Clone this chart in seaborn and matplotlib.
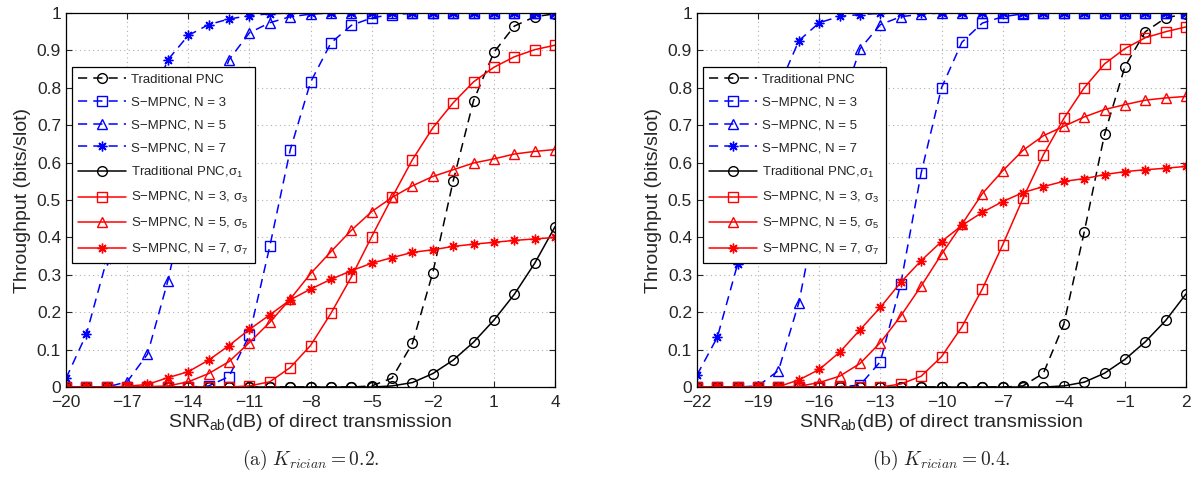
import numpy as np
import pandas as pd
import seaborn as sns
import matplotlib
matplotlib.use('Agg')
import matplotlib.pyplot as plt
from matplotlib.ticker import FormatStrFormatter

# SNR axes (dB), one marker per dB
snr_a = list(range(-20, 5))
snr_b = list(range(-22, 3))

# (a) K_rician = 0.2
pnc_a = [0, 0, 0, 0, 0, 0, 0, 0, 0, 0, 0, 0, 0, 0, 0, 0.003, 0.024, 0.117, 0.306, 0.551, 0.766, 0.895, 0.965, 0.99, 0.998]
n3_a = [0, 0, 0, 0, 0, 0, 0, 0.003, 0.028, 0.139, 0.376, 0.633, 0.815, 0.92, 0.967, 0.987, 0.996, 0.999, 1, 1, 1, 1, 1, 1, 1]
n5_a = [0, 0, 0, 0.014, 0.088, 0.284, 0.53, 0.73, 0.875, 0.947, 0.974, 0.99, 0.997, 1, 1, 1, 1, 1, 1, 1, 1, 1, 1, 1, 1]
n7_a = [0.023, 0.141, 0.34, 0.55, 0.74, 0.875, 0.94, 0.969, 0.984, 0.993, 0.998, 1, 1, 1, 1, 1, 1, 1, 1, 1, 1, 1, 1, 1, 1]
pnc_s_a = [0, 0, 0, 0, 0, 0, 0, 0, 0, 0, 0, 0, 0, 0, 0, 0, 0.003, 0.012, 0.036, 0.072, 0.12, 0.179, 0.248, 0.331, 0.429]
n3_s_a = [0, 0, 0, 0, 0, 0, 0, 0, 0, 0.003, 0.014, 0.052, 0.111, 0.197, 0.294, 0.402, 0.507, 0.608, 0.693, 0.76, 0.816, 0.855, 0.883, 0.902, 0.914]
n5_s_a = [0, 0, 0, 0, 0.001, 0.003, 0.014, 0.036, 0.068, 0.119, 0.173, 0.235, 0.303, 0.362, 0.419, 0.469, 0.507, 0.538, 0.563, 0.581, 0.599, 0.61, 0.623, 0.63, 0.635]
n7_s_a = [0, 0, 0, 0.002, 0.007, 0.025, 0.041, 0.072, 0.111, 0.154, 0.193, 0.233, 0.262, 0.288, 0.311, 0.331, 0.346, 0.36, 0.367, 0.376, 0.382, 0.387, 0.392, 0.396, 0.4]

# (b) K_rician = 0.4
pnc_b = [0, 0, 0, 0, 0, 0, 0, 0, 0, 0, 0, 0, 0, 0, 0, 0, 0.003, 0.037, 0.168, 0.414, 0.676, 0.857, 0.95, 0.987, 0.998]
n3_b = [0, 0, 0, 0, 0, 0, 0, 0.001, 0.005, 0.068, 0.276, 0.572, 0.8, 0.922, 0.973, 0.99, 0.998, 1, 1, 1, 1, 1, 1, 1, 1]
n5_b = [0, 0, 0, 0.003, 0.044, 0.226, 0.5, 0.74, 0.904, 0.969, 0.99, 0.997, 1, 1, 1, 1, 1, 1, 1, 1, 1, 1, 1, 1, 1]
n7_b = [0.032, 0.133, 0.33, 0.58, 0.8, 0.926, 0.974, 0.991, 0.996, 0.999, 1, 1, 1, 1, 1, 1, 1, 1, 1, 1, 1, 1, 1, 1, 1]
pnc_s_b = [0, 0, 0, 0, 0, 0, 0, 0, 0, 0, 0, 0, 0, 0, 0, 0, 0, 0, 0.003, 0.013, 0.037, 0.074, 0.121, 0.178, 0.249]
n3_s_b = [0, 0, 0, 0, 0, 0, 0, 0, 0, 0, 0.008, 0.029, 0.081, 0.161, 0.262, 0.38, 0.505, 0.621, 0.718, 0.8, 0.864, 0.905, 0.934, 0.95, 0.963]
n5_s_b = [0, 0, 0, 0, 0, 0.002, 0.012, 0.029, 0.063, 0.119, 0.19, 0.27, 0.355, 0.435, 0.517, 0.578, 0.633, 0.672, 0.697, 0.722, 0.742, 0.755, 0.767, 0.773, 0.777]
n7_s_b = [0, 0, 0, 0, 0.001, 0.019, 0.047, 0.093, 0.153, 0.213, 0.28, 0.338, 0.389, 0.432, 0.467, 0.496, 0.52, 0.536, 0.55, 0.557, 0.568, 0.576, 0.581, 0.585, 0.59]

labels = ['Traditional PNC', 'S\u2212MPNC, N = 3', 'S\u2212MPNC, N = 5', 'S\u2212MPNC, N = 7',
          'Traditional PNC,\u03c3$_1$', 'S\u2212MPNC, N = 3, \u03c3$_3$',
          'S\u2212MPNC, N = 5, \u03c3$_5$', 'S\u2212MPNC, N = 7, \u03c3$_7$']
xticks_a = [-20, -17, -14, -11, -8, -5, -2, 1, 4]
xticks_b = [-22, -19, -16, -13, -10, -7, -4, -1, 2]
captions = [r'$\mathrm{(a)}\ K_{rician} = 0.2.$', r'$\mathrm{(b)}\ K_{rician} = 0.4.$']

sns.set_style('ticks')
plt.rcParams['font.family'] = ['Liberation Sans', 'DejaVu Sans']
plt.rcParams['mathtext.fontset'] = 'custom'
plt.rcParams['mathtext.rm'] = 'Liberation Sans'
plt.rcParams['mathtext.it'] = 'Liberation Sans:italic'

asterisk = (8, 2, 0)
dash = (0, (6, 4))
styles = [
    dict(color='black', marker='o', ls=dash),
    dict(color='blue', marker='s', ls=dash),
    dict(color='blue', marker='^', ls=dash),
    dict(color='blue', marker=asterisk, ls=dash),
    dict(color='black', marker='o', ls='-'),
    dict(color='red', marker='s', ls='-'),
    dict(color='red', marker='^', ls='-'),
    dict(color='red', marker=asterisk, ls='-'),
]

fig = plt.figure(figsize=(11.93, 4.82), dpi=100)
ax_a = fig.add_axes([0.0553, 0.197, 0.41, 0.776])
ax_b = fig.add_axes([0.5842, 0.197, 0.41, 0.776])

panels = [
    (ax_a, snr_a, [pnc_a, n3_a, n5_a, n7_a, pnc_s_a, n3_s_a, n5_s_a, n7_s_a], xticks_a),
    (ax_b, snr_b, [pnc_b, n3_b, n5_b, n7_b, pnc_s_b, n3_s_b, n5_s_b, n7_s_b], xticks_b),
]

for i, (ax, snr, series, xticks) in enumerate(panels):
    for vals, st, lab in zip(series, styles, labels):
        sns.lineplot(x=snr, y=vals, ax=ax, color=st['color'], marker=st['marker'],
                     linestyle=st['ls'], linewidth=1.1, markersize=7, fillstyle='none',
                     markeredgewidth=1.0, markeredgecolor=st['color'], label=lab)
    ax.set_xlim(xticks[0], xticks[-1])
    ax.set_ylim(0, 1)
    ax.set_xticks(xticks)
    ax.set_yticks(np.arange(0, 1.01, 0.1))
    ax.yaxis.set_major_formatter(FormatStrFormatter('%g'))
    ax.xaxis.set_ticklabels(['\u2212' + str(-t) if t < 0 else str(t) for t in xticks])
    ax.grid(True, color='#b0b0b0', linestyle=(0, (1, 3)), linewidth=0.8)
    ax.tick_params(direction='in', top=True, right=True, labelsize=12.5, length=4, width=0.8)
    ax.tick_params(axis='x', pad=6)
    for s in ax.spines.values():
        s.set_color('black')
        s.set_linewidth(0.9)
    ax.set_xlabel('SNR$_{\\mathrm{ab}}$(dB) of direct transmission', fontsize=14, labelpad=1)
    ax.set_ylabel('Throughput (bits/slot)', fontsize=14, labelpad=4)
    ax.legend(loc='upper left', bbox_to_anchor=(0.012, 0.856), borderaxespad=0, fontsize=9.5,
              frameon=True, fancybox=False, edgecolor='black', framealpha=1,
              handlelength=3.6, labelspacing=0.8, borderpad=0.5, handletextpad=0.4)
    ax.get_legend().get_frame().set_linewidth(0.9)
    pos = ax.get_position()
    fig.text(pos.x0 + pos.width / 2, 0.02, captions[i], ha='center', va='bottom',
             fontsize=14, math_fontfamily='cm')

fig.savefig('out.png', dpi=100)
